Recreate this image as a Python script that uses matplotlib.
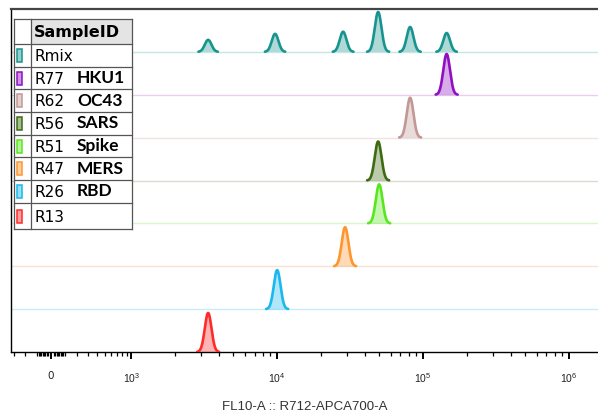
import numpy as np
import matplotlib.pyplot as plt
from matplotlib.patches import Rectangle

plt.rcParams["mathtext.fontset"] = "custom"
plt.rcParams["mathtext.rm"] = "Liberation Sans"
plt.rcParams["mathtext.it"] = "Liberation Sans:italic"

# sample rows, top to bottom
codes = ["Rmix", "R77", "R62", "R56", "R51", "R47", "R26", "R13"]
names = ["", "HKU1", "OC43", "SARS", "Spike", "MERS", "RBD", ""]
line_colors = ["#17948f", "#9010c0", "#c29896", "#3d6b12", "#5ae61e", "#ff952e", "#1ab8ee", "#ff2a2a"]
base_colors = ["#c4e6e5", "#ebcdf3", "#f2e2e2", "#d9ddcf", "#d8f5cc", "#f8e2d6", "#c8ecf8", "#ffd0d0"]

# peak positions (FL10-A intensity) and relative heights per row
peak_pos = [
    [3365, 9680, 28300, 49200, 81500, 145000],
    [145000],
    [81500],
    [49200],
    [50000],
    [29200],
    [10000],
    [3365],
]
peak_h = [
    [0.28, 0.42, 0.47, 0.93, 0.58, 0.44],
    [0.95],
    [0.93],
    [0.91],
    [0.91],
    [0.91],
    [0.91],
    [0.91],
]

major_ticks = [0, 1e3, 1e4, 1e5, 1e6]
major_labels = ["0", r"$10^3$", r"$10^4$", r"$10^5$", r"$10^6$"]


# logicle-like axis: arcsinh below 1000, log10 above
A = np.arcsinh(1000 / 300)


def fwd(x):
    x = np.asarray(x, float)
    lo = 2.45 + 0.55 * np.arcsinh(x / 300) / A
    hi = np.log10(np.maximum(x, 1000))
    return np.where(x >= 1000, hi, lo)


def inv(y):
    y = np.asarray(y, float)
    lo = 300 * np.sinh((np.clip(y, -5, 3) - 2.45) / 0.55 * A)
    hi = 10 ** np.clip(y, 3, 12)
    return np.where(y >= 3, hi, lo)


px_per_dec = 146.0
f_left = 2.45 - (51 - 11) / px_per_dec
f_right = 3 + (598 - 131) / px_per_dec

fig = plt.figure(figsize=(5.98, 4.16), dpi=100)
ax = fig.add_axes([11 / 598, 64 / 416, 587 / 598, 343 / 416])
ax.set_xscale("function", functions=(fwd, inv))
ax.set_xlim(float(inv(f_left)), float(inv(f_right)))
ax.set_ylim(0, 8)

sigma = 0.023
t = np.linspace(f_left, f_right, 4000)
xs = inv(t)
n = len(codes)
for i in range(n):
    off = n - 1 - i
    g = np.zeros_like(t)
    for c, h in zip(peak_pos[i], peak_h[i]):
        g += h * np.exp(-(t - fwd(c)) ** 2 / (2 * sigma ** 2))
    if off > 0:
        ax.axhline(off, color=base_colors[i], lw=1.0, zorder=1)
    ax.fill_between(xs, off, off + g, where=g > 0.004, color=line_colors[i],
                    alpha=0.35, lw=0, zorder=2)
    yy = np.where(g > 0.004, off + g, np.nan)
    ax.plot(xs, yy, color=line_colors[i], lw=1.9, solid_capstyle="round", zorder=3)

# ticks
minor = ([-300, -200, -100] + list(range(-90, -10, 10)) + list(range(20, 100, 10))
         + list(range(100, 1000, 100)))
for d in [1e3, 1e4, 1e5]:
    minor += [k * d for k in range(2, 10)]
ax.set_xticks(major_ticks)
ax.set_xticklabels(major_labels)
ax.set_xticks(minor, minor=True)
ax.tick_params(axis="x", which="major", length=5, width=1.4, pad=9,
               labelsize=7.5, labelcolor="#222222")
ax.tick_params(axis="x", which="minor", length=3, width=0.9)
ax.set_yticks([])
for side in ["left", "bottom"]:
    ax.spines[side].set_color("black")
    ax.spines[side].set_linewidth(1.0)
ax.spines["top"].set_color("#444444")
ax.spines["top"].set_linewidth(1.6)
ax.spines["right"].set_visible(False)
ax.set_xlabel("FL10-A :: R712-APCA700-A", fontsize=9.5, color="#333333",
              family="Liberation Sans", labelpad=11)

# sample table drawn in pixel coordinates
ov = fig.add_axes([0, 0, 1, 1], zorder=5)
ov.set_xlim(0, 598)
ov.set_ylim(416, 0)
ov.axis("off")
ov.patch.set_alpha(0)

x0, x1, x2 = 14, 31, 132
rows = [19, 44, 67, 89, 112, 135, 157, 180, 203, 229]
ov.add_patch(Rectangle((x0, rows[0]), x2 - x0, rows[-1] - rows[0], fc="white", ec="none"))
ov.add_patch(Rectangle((x1, rows[0]), x2 - x1, rows[1] - rows[0], fc="#e4e4e4", ec="none"))
for r in rows:
    ov.plot([x0, x2], [r, r], color="#555555", lw=0.9)
for xv in [x0, x1, x2]:
    ov.plot([xv, xv], [rows[0], rows[-1]], color="#555555", lw=0.9)
ov.text(34, (rows[0] + rows[1]) / 2 + 1, "SampleID", fontsize=11.5, fontweight="bold",
        family="DejaVu Sans", va="center", ha="left")
for i in range(n):
    yc = (rows[i + 1] + rows[i + 2]) / 2
    ov.add_patch(Rectangle((16.5, yc - 6.5), 5.5, 13, fc=line_colors[i], alpha=0.45, ec="none"))
    ov.add_patch(Rectangle((16.5, yc - 6.5), 5.5, 13, fc="none", ec=line_colors[i], lw=1.1))
    ov.text(35, yc + 1, codes[i], fontsize=11, family="DejaVu Sans",
            va="center", ha="left")
    if names[i]:
        ov.text(77, yc, names[i], fontsize=12.5, fontweight="bold", family="Lato",
                va="center", ha="left")

fig.savefig("out.png", dpi=100)
